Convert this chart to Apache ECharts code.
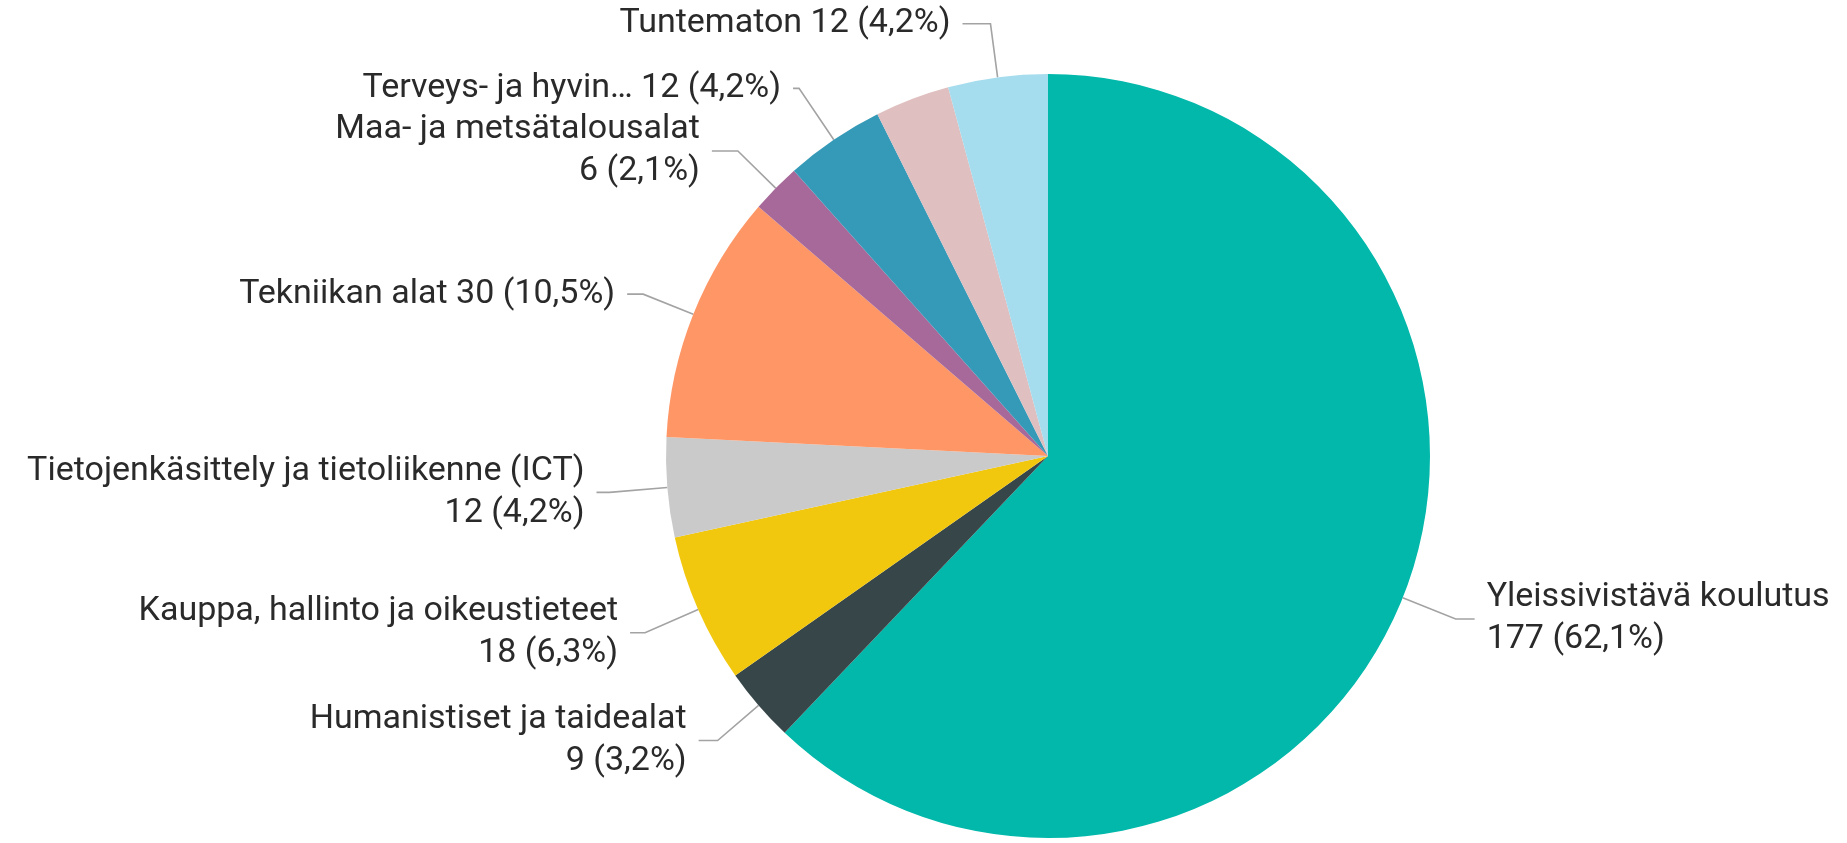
<!DOCTYPE html>
<html>
<head>
<meta charset="utf-8">
<title>Koulutusala</title>
<script src="https://cdn.jsdelivr.net/npm/echarts@6/dist/echarts.min.js"></script>
<style>
  html, body { margin: 0; padding: 0; background: #fff; }
  #main { width: 1847px; height: 843px; }
</style>
</head>
<body>
<div id="main"></div>
<script>
// categories in drawing order (clockwise from 12 o'clock)
var categories = [
  'Yleissivistävä koulutus',
  'Humanistiset ja taidealat',
  'Kauppa, hallinto ja oikeustieteet',
  'Tietojenkäsittely ja tietoliikenne (ICT)',
  'Tekniikan alat',
  'Maa- ja metsätalousalat',
  'Terveys- ja hyvin…',
  'Palvelualat',
  'Tuntematon'
];
var counts = [177, 9, 18, 12, 30, 6, 12, 9, 12];
// which labels Power BI broke onto two lines / left out
var twoLine = [true, true, true, true, false, true, false, false, false];
var showLabel = [true, true, true, true, true, true, true, false, true];
var colors = ['#01B8AA', '#374649', '#F2C80F', '#CACACA', '#FE9666', '#A66999', '#3599B8', '#DFBFBF', '#A5DCEE'];

// leader line lengths per slice (radial part, horizontal part)
var leaderLen = [57, 54, 58, 58, 54, 53, 62, 40, 54];
var leaderLen2 = [19, 19, 15, 13, 16, 26, 6, 20, 28];

var total = counts.reduce(function (a, b) { return a + b; }, 0);

function pct(v) {
  return (v / total * 100).toFixed(1).replace('.', ',') + '%';
}

var chartDom = document.getElementById('main');
var myChart = echarts.init(chartDom);
var option;

var data = categories.map(function (name, i) {
  return {
    name: name,
    value: counts[i],
    itemStyle: { color: colors[i] },
    label: { show: showLabel[i] },
    labelLine: { show: showLabel[i], length: leaderLen[i], length2: leaderLen2[i] }
  };
});

option = {
  animation: false,
  textStyle: { fontFamily: 'Roboto' },
  series: [
    {
      type: 'pie',
      center: [1048, 456],
      radius: 382,
      startAngle: 90,
      clockwise: true,
      avoidLabelOverlap: false,
      labelLayout: { hideOverlap: false },
      data: data,
      label: {
        position: 'outside',
        fontFamily: 'Roboto',
        fontSize: 34,
        lineHeight: 42,
        color: '#2a2a2a',
        distanceToLabelLine: 12,
        formatter: function (p) {
          var sep = twoLine[p.dataIndex] ? '\n' : ' ';
          return p.name + sep + p.value + ' (' + pct(p.value) + ')';
        }
      },
      labelLine: {
        smooth: false,
        lineStyle: { color: '#a3a3a3', width: 1.6 }
      },
      emphasis: { disabled: true }
    }
  ]
};

option && myChart.setOption(option);
</script>
</body>
</html>
